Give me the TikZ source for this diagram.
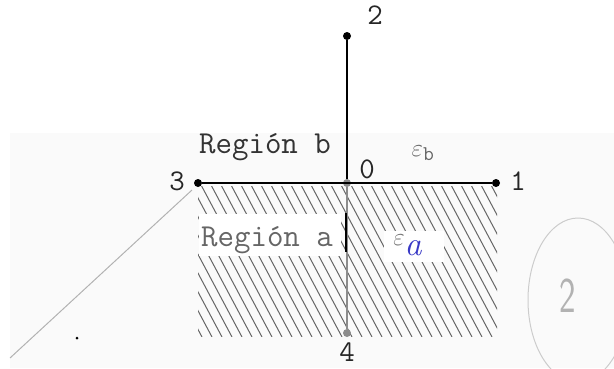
\documentclass[tikz,border=0pt]{standalone}
\usepackage{fontspec}
\begin{document}
\begin{tikzpicture}[x=1pt,y=-1pt,
  dot/.style={circle,fill=black,inner sep=0pt,minimum size=8pt},
  gdot/.style={circle,fill=black!45,inner sep=0pt,minimum size=8pt},
  lbl/.style={font=\ttfamily\fontsize{30}{30}\selectfont,text=black!85,inner sep=0pt},
  reg/.style={font=\ttfamily\fontsize{32}{32}\selectfont,inner sep=0pt},
  hatch/.style={black!60,line width=1pt},
  mainline/.style={black,line width=2.2pt}]
\useasboundingbox (0,0) rectangle (614,368);
% faint scan background band
\fill[black!2] (10,133) rectangle (614,368);
% hatched region
\begin{scope}
  \clip (198,186) rectangle (497,336);
  \foreach \x in {110,120,...,500}{
    \draw[hatch] (\x,183) -- ++(82,154);
  }
\end{scope}
% white patches behind labels
\fill[white] (199,214) rectangle (341,256);
\fill[white] (384,231) rectangle (444,262);
% points
\node[dot]  (p2) at (347,36) {};
\node[gdot] (p0) at (347,183) {};
\node[dot]  (p3) at (198,183) {};
\node[dot]  (p1) at (496,183) {};
\node[gdot] (p4) at (347,333) {};
\coordinate (s1) at (346,213);
\coordinate (s2) at (346,252);
% connectors
\draw[mainline] (p3) -- (p1);
\draw[black,line width=2pt] (p2) -- (p0);
\draw[black!45,line width=2.6pt] (p0) -- (p4);
\draw[black,line width=1.6pt] (s1) -- (s2);
% point labels
\node[lbl] (l2) at (375,15) {2};
\node[lbl] (l0) at (367,169) {0};
\node[lbl] (l3) at (177,181) {3};
\node[lbl] (l1) at (518,181) {1};
\node[lbl] (l4) at (347,352) {4};
% region labels
\node[reg,text=black!80] (rb) at (265,147) {Región b};
\node[reg,text=black!60] (ra) at (267,240) {Región a};
\node[inner sep=0pt,text=black!60,font=\fontsize{30}{30}\selectfont] (eb) at (423,153) {$\varepsilon_{\mathtt{b}}$};
\node[inner sep=0pt,text=black!55,font=\fontsize{30}{30}\selectfont] (ea) at (399,240) {$\varepsilon$};
\node[inner sep=0pt,text=blue!55!gray,font=\fontsize{34}{34}\selectfont\itshape] (ha) at (413,248) {a};
% scan marks
\draw[black!30,line width=1pt] (10,358) -- (192,190);
\fill[black] (77,338) circle (1.5pt);
\draw[black!20,line width=1pt] (578,300) ellipse [x radius=50,y radius=82];
\node[inner sep=0pt,text=black!30,font=\sffamily\fontsize{50}{50}\selectfont,xscale=0.7] (c2) at (568,296) {2};
\end{tikzpicture}
\end{document}
